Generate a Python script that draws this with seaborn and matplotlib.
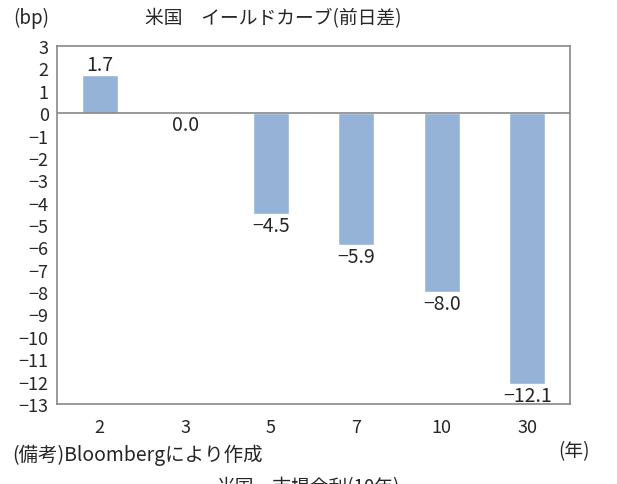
import matplotlib
import numpy as np
import pandas as pd
import seaborn as sns
import matplotlib.pyplot as plt

sns.set_style("white")
plt.rcParams['font.family'] = ['Noto Sans CJK JP', 'DejaVu Sans']

maturities = ["2", "3", "5", "7", "10", "30"]
changes = [1.7, 0.0, -4.5, -5.9, -8.0, -12.1]
yticks = list(range(-13, 4))

df = pd.DataFrame({"maturity": maturities, "change": changes})

fig = plt.figure(figsize=(6.17, 4.85), dpi=100)
ax = fig.add_axes([0.0924, 0.165, 0.8314, 0.738])

sns.barplot(data=df, x="maturity", y="change", color="#95B3D7",
            saturation=1, width=0.42, ax=ax)

ax.set_ylim(-13, 3)
ax.set_yticks(yticks)
ax.set_yticklabels([str(t).replace("-", "\u2212") for t in yticks], fontsize=13)
ax.set_xlim(-0.5, 5.5)
ax.tick_params(axis="y", direction="out", length=4, color="#888888", pad=2)
ax.tick_params(axis="x", length=0, labelsize=13, pad=10)
ax.set_xlabel("")
ax.set_ylabel("")
ax.axhline(0, color="#888888", lw=1.2)
for s in ax.spines.values():
    s.set_color("#888888")
    s.set_linewidth(1.2)

for i, v in enumerate(changes):
    if v > 0:
        ax.text(i, v + 0.0, f"{v:.1f}", ha="center", va="bottom", fontsize=14)
    else:
        ax.text(i, v - 0.05, f"{v:.1f}".replace("-", "\u2212"), ha="center",
                va="top", fontsize=14)

fig.text(0.443, 0.962, "米国　イールドカーブ(前日差)", ha="center", va="center",
         fontsize=13.5)
fig.text(0.022, 0.962, "(bp)", ha="left", va="center", fontsize=13.5)
fig.text(0.905, 0.068, "(年)", ha="left", va="center", fontsize=13.5)
fig.text(0.02, 0.062, "(備考)Bloombergにより作成", ha="left", va="center",
         fontsize=14)
# next chart's title, cut off at the bottom edge
fig.text(0.5, 0.016, "米国・市場金利(10年)", ha="center", va="top",
         fontsize=13.5)

fig.savefig("out.png", dpi=100)
